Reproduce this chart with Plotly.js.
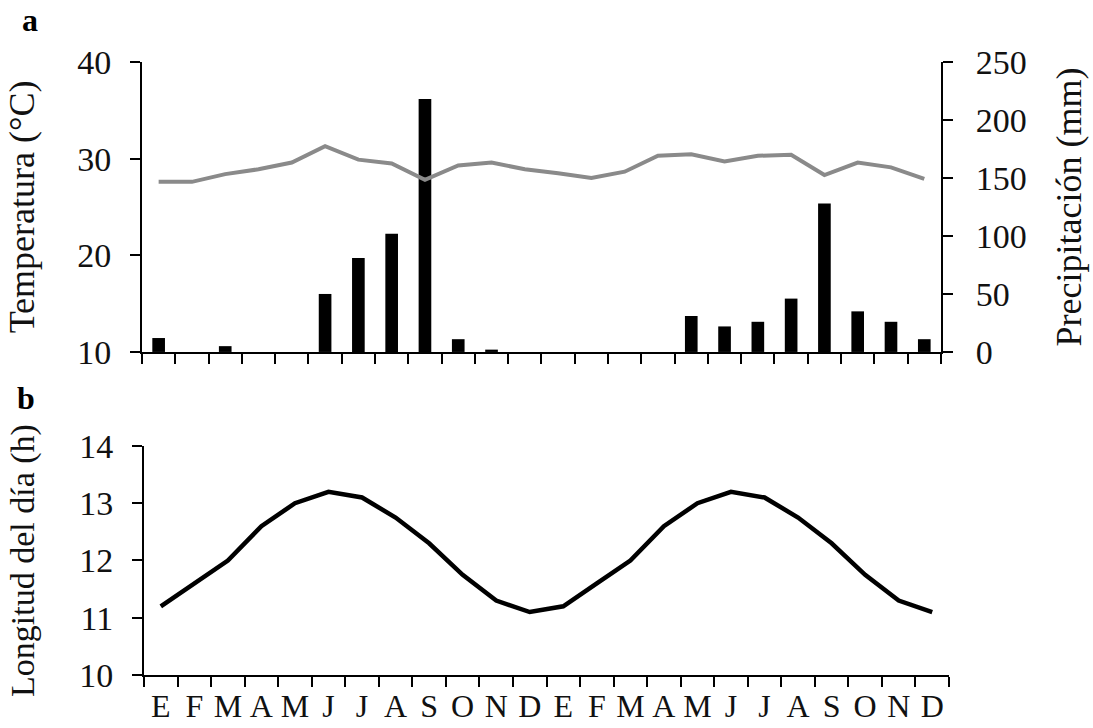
<!DOCTYPE html>
<html>
<head>
<meta charset="utf-8">
<script src="https://cdn.plot.ly/plotly-3.0.1.min.js"></script>
<style>html,body{margin:0;padding:0;background:#fff;}#chart{width:1093px;height:728px;}</style>
</head>
<body>
<div id="chart"></div>
<script>
// Month labels (two consecutive years)
const months = ["E","F","M","A","M","J","J","A","S","O","N","D",
                "E","F","M","A","M","J","J","A","S","O","N","D"];
// Precipitación (mm)
const precipitation = [12,0,5,0,0,50,81,102,218,11,2,0,
                       0,0,0,0,31,22,26,46,128,35,26,11];
// Temperatura (°C)
const temperature = [27.6,27.6,28.4,28.9,29.6,31.3,29.9,29.5,27.8,29.3,29.6,28.9,
                     28.5,28.0,28.65,30.3,30.45,29.7,30.3,30.4,28.3,29.6,29.1,27.9];
// Longitud del día (h)
const dayLength = [11.2,11.6,12.0,12.6,13.0,13.2,13.1,12.75,12.3,11.75,11.3,11.1,
                   11.2,11.6,12.0,12.6,13.0,13.2,13.1,12.75,12.3,11.75,11.3,11.1];
const precipTicks = [0,50,100,150,200,250];
const tempTicks = [10,20,30,40];
const dayTicks = [10,11,12,13,14];

const idx = months.map((m,i)=>i);
const bounds = months.map((m,i)=>i-0.5).concat([months.length-0.5]);

const FONT = "Liberation Serif, Times New Roman, serif";
const fsTick = 34;
const fsTitle = 36;

const traces = [
  {type:'bar', x:idx, y:precipitation, xaxis:'x', yaxis:'y', width:0.38,
   marker:{color:'#000000', line:{width:0}}, showlegend:false, hoverinfo:'skip'},
  {type:'scatter', mode:'lines', x:idx, y:temperature, xaxis:'x', yaxis:'y2',
   line:{color:'#8a8a8a', width:4}, showlegend:false, hoverinfo:'skip'},
  {type:'scatter', mode:'lines', x:idx, y:dayLength, xaxis:'x2', yaxis:'y3',
   line:{color:'#000000', width:4.5}, showlegend:false, hoverinfo:'skip'},
  // carrier for the month-label axis (nothing visible)
  {type:'scatter', mode:'markers', x:idx, y:dayLength, xaxis:'x3', yaxis:'y3',
   marker:{opacity:0, size:1}, showlegend:false, hoverinfo:'skip'}
];

const axLine = {showline:true, linecolor:'#000', linewidth:2, ticks:'outside', ticklen:10,
  tickwidth:2, tickcolor:'#000', showgrid:false, zeroline:false, fixedrange:true,
  tickfont:{size:fsTick, family:FONT, color:'#111'}};

const layout = {
  width:1093, height:728,
  margin:{l:142, r:144, t:62, b:53},
  paper_bgcolor:'#fff', plot_bgcolor:'rgba(0,0,0,0)',
  font:{family:FONT, size:fsTick, color:'#111'},
  showlegend:false,
  xaxis: Object.assign({}, axLine, {domain:[0,0.990], anchor:'y', range:[-0.5,23.5],
    tickmode:'array', tickvals:bounds, ticktext:bounds.map(()=>''), }),
  yaxis: Object.assign({}, axLine, {domain:[0.527,1], anchor:'x', side:'right', range:[0,250],
    tickmode:'array', tickvals:precipTicks, ticklabelstandoff:16,
    title:{text:'Precipitación (mm)', font:{size:fsTitle, family:FONT, color:'#111'}, standoff:30}}),
  yaxis2: Object.assign({}, axLine, {overlaying:'y', anchor:'x', side:'left', range:[10,40],
    tickmode:'array', tickvals:tempTicks, ticklabelstandoff:12,
    title:{text:'Temperatura (°C)', font:{size:fsTitle, family:FONT, color:'#111'}, standoff:32}}),
  xaxis2: Object.assign({}, axLine, {domain:[0.0025,1], anchor:'y3', range:[-0.5,23.5],
    tickmode:'array', tickvals:bounds, ticktext:bounds.map(()=>'')}),
  xaxis3: {overlaying:'x2', anchor:'y3', side:'bottom', range:[-0.5,23.5], showline:false, ticks:'',
    showgrid:false, zeroline:false, tickmode:'array', tickvals:idx, ticktext:months,
    ticklabelstandoff:9, fixedrange:true, tickfont:{size:32, family:FONT, color:'#111'}},
  yaxis3: Object.assign({}, axLine, {domain:[0,0.3736], anchor:'x2', range:[10,14],
    tickmode:'array', tickvals:dayTicks, ticklabelstandoff:12,
    title:{text:'Longitud del día (h)', font:{size:34, family:FONT, color:'#111'}, standoff:34}}),
  annotations:[
    {text:'<b>a</b>', xref:'paper', yref:'paper', x:(30-142)/807, y:(675-20)/613,
     xanchor:'center', yanchor:'middle', showarrow:false, font:{size:32, family:FONT, color:'#000'}},
    {text:'<b>b</b>', xref:'paper', yref:'paper', x:(26-142)/807, y:(675-398)/613,
     xanchor:'center', yanchor:'middle', showarrow:false, font:{size:32, family:FONT, color:'#000'}}
  ]
};

Plotly.newPlot('chart', traces, layout, {displayModeBar:false, staticPlot:true});
</script>
</body>
</html>
